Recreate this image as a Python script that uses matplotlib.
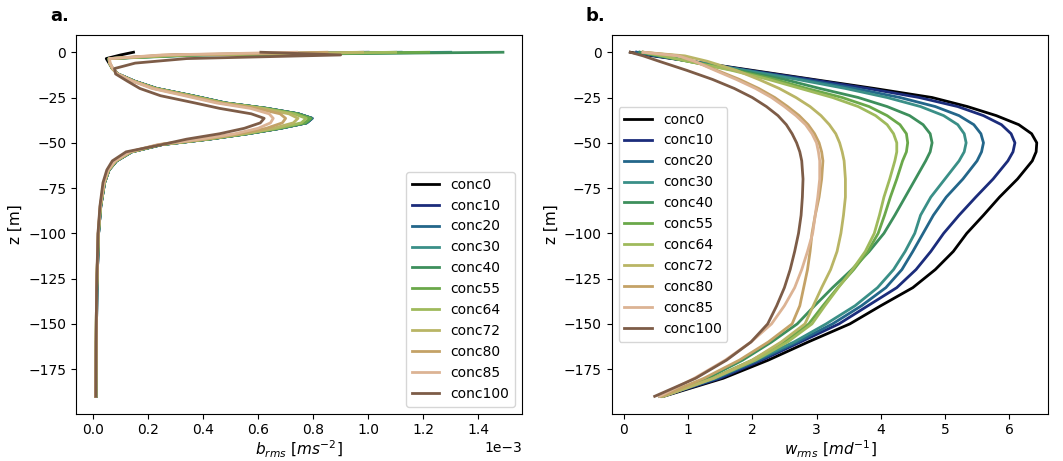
import matplotlib
matplotlib.use("Agg")
import matplotlib.pyplot as plt
import numpy as np

labels = ["conc0", "conc10", "conc20", "conc30", "conc40", "conc55",
          "conc64", "conc72", "conc80", "conc85", "conc100"]
colors = ["#000000", "#1b2c7b", "#23668a", "#3a8f87", "#3d8f5c", "#6aa84a",
          "#9fba5c", "#b9b565", "#c4a267", "#dcb394", "#7d5c47"]

# ---- panel a: b_rms (units of 1e-3 m s^-2) ----
z_b = [0, -1.5, -3.5, -6, -9, -12, -16, -20, -24, -28, -31, -34, -36.5, -39,
       -42, -45, -48, -51, -55, -60, -65, -72, -85, -100, -130, -160, -190]

b_conc0 = [0.147, 0.10, 0.048, 0.058, 0.070, 0.090, 0.150, 0.230, 0.360, 0.480, 0.630, 0.745, 0.795, 0.775,
           0.680, 0.560, 0.420, 0.250, 0.140, 0.085, 0.058, 0.042, 0.028, 0.020, 0.014, 0.012, 0.011]
b_conc10 = [1.00, 0.30, 0.058, 0.060, 0.071, 0.091, 0.152, 0.232, 0.362, 0.482, 0.632, 0.747, 0.797, 0.777,
            0.682, 0.562, 0.422, 0.252, 0.141, 0.086, 0.058, 0.042, 0.028, 0.020, 0.014, 0.012, 0.011]
b_conc20 = [1.12, 0.32, 0.058, 0.060, 0.071, 0.091, 0.151, 0.231, 0.361, 0.481, 0.631, 0.746, 0.796, 0.776,
            0.681, 0.561, 0.421, 0.251, 0.141, 0.085, 0.058, 0.042, 0.028, 0.020, 0.014, 0.012, 0.011]
b_conc30 = [1.30, 0.36, 0.058, 0.060, 0.070, 0.090, 0.150, 0.230, 0.360, 0.480, 0.630, 0.745, 0.795, 0.775,
            0.680, 0.560, 0.420, 0.250, 0.140, 0.085, 0.058, 0.042, 0.028, 0.020, 0.014, 0.012, 0.011]
b_conc40 = [1.49, 0.40, 0.058, 0.060, 0.070, 0.090, 0.150, 0.229, 0.359, 0.479, 0.629, 0.744, 0.794, 0.774,
            0.679, 0.559, 0.419, 0.249, 0.140, 0.085, 0.058, 0.042, 0.028, 0.020, 0.014, 0.012, 0.011]
b_conc55 = [1.22, 0.35, 0.058, 0.060, 0.070, 0.090, 0.149, 0.228, 0.357, 0.477, 0.627, 0.741, 0.790, 0.770,
            0.676, 0.557, 0.418, 0.248, 0.139, 0.084, 0.057, 0.041, 0.027, 0.019, 0.013, 0.011, 0.010]
b_conc64 = [1.10, 0.33, 0.058, 0.060, 0.070, 0.089, 0.148, 0.226, 0.354, 0.473, 0.620, 0.730, 0.775, 0.757,
            0.668, 0.552, 0.414, 0.246, 0.138, 0.083, 0.057, 0.041, 0.027, 0.019, 0.013, 0.011, 0.010]
b_conc72 = [0.98, 0.30, 0.058, 0.060, 0.070, 0.089, 0.147, 0.224, 0.350, 0.468, 0.612, 0.712, 0.745, 0.728,
            0.655, 0.545, 0.410, 0.244, 0.137, 0.082, 0.056, 0.040, 0.027, 0.019, 0.013, 0.011, 0.010]
b_conc80 = [0.85, 0.27, 0.059, 0.061, 0.071, 0.089, 0.146, 0.220, 0.343, 0.460, 0.595, 0.680, 0.700, 0.688,
            0.630, 0.532, 0.402, 0.240, 0.135, 0.081, 0.055, 0.040, 0.026, 0.019, 0.013, 0.011, 0.010]
b_conc85 = [0.74, 0.25, 0.060, 0.062, 0.072, 0.089, 0.144, 0.214, 0.332, 0.448, 0.572, 0.640, 0.655, 0.645,
            0.600, 0.515, 0.390, 0.236, 0.133, 0.080, 0.055, 0.040, 0.026, 0.018, 0.013, 0.011, 0.010]
b_conc100 = [0.61, 0.90, 0.340, 0.153, 0.078, 0.082, 0.125, 0.170, 0.245, 0.370, 0.460, 0.575, 0.622, 0.608,
             0.550, 0.460, 0.340, 0.250, 0.120, 0.070, 0.050, 0.036, 0.025, 0.018, 0.013, 0.011, 0.010]

b_series = [b_conc0, b_conc10, b_conc20, b_conc30, b_conc40, b_conc55,
            b_conc64, b_conc72, b_conc80, b_conc85, b_conc100]

# ---- panel b: w_rms (m d^-1) ----
z_w = [0, -2, -5, -10, -15, -20, -25, -30, -35, -40, -45, -50, -55, -60,
       -70, -80, -90, -100, -110, -120, -130, -140, -150, -160, -170, -180, -190]

w_conc0 = [0.10, 0.45, 1.05, 2.00, 2.95, 3.90, 4.80, 5.35, 5.80, 6.15, 6.35, 6.43, 6.42, 6.36,
           6.13, 5.85, 5.60, 5.34, 5.13, 4.85, 4.50, 4.00, 3.52, 2.87, 2.25, 1.55, 0.62]
w_conc10 = [0.20, 0.50, 1.05, 1.95, 2.90, 3.80, 4.60, 5.20, 5.60, 5.88, 6.03, 6.09, 6.06, 5.98,
            5.75, 5.48, 5.22, 4.98, 4.78, 4.55, 4.25, 3.80, 3.35, 2.75, 2.15, 1.50, 0.60]
w_conc20 = [0.20, 0.50, 1.05, 1.90, 2.78, 3.60, 4.30, 4.85, 5.22, 5.45, 5.56, 5.60, 5.57, 5.50,
            5.28, 5.02, 4.82, 4.66, 4.50, 4.33, 4.08, 3.70, 3.25, 2.70, 2.10, 1.45, 0.60]
w_conc30 = [0.25, 0.55, 1.05, 1.88, 2.70, 3.45, 4.10, 4.62, 4.98, 5.20, 5.30, 5.33, 5.30, 5.22,
            5.00, 4.78, 4.62, 4.53, 4.38, 4.20, 3.95, 3.60, 3.15, 2.65, 2.05, 1.42, 0.60]
w_conc40 = [0.25, 0.55, 1.00, 1.78, 2.50, 3.05, 3.65, 4.10, 4.45, 4.66, 4.77, 4.80, 4.77, 4.70,
            4.54, 4.38, 4.22, 4.05, 3.82, 3.55, 3.25, 2.97, 2.70, 2.30, 1.85, 1.30, 0.55]
w_conc55 = [0.30, 0.60, 1.00, 1.72, 2.35, 2.85, 3.40, 3.82, 4.10, 4.30, 4.40, 4.42, 4.40, 4.34,
            4.25, 4.15, 4.06, 3.96, 3.80, 3.58, 3.33, 3.10, 2.88, 2.50, 2.00, 1.38, 0.58]
w_conc64 = [0.30, 0.60, 1.00, 1.68, 2.25, 2.75, 3.25, 3.65, 3.92, 4.10, 4.20, 4.25, 4.25, 4.22,
            4.14, 4.05, 3.98, 3.90, 3.76, 3.56, 3.34, 3.13, 2.93, 2.55, 2.05, 1.40, 0.60]
w_conc72 = [0.30, 0.95, 1.30, 1.75, 2.10, 2.42, 2.68, 2.90, 3.07, 3.20, 3.30, 3.36, 3.40, 3.43,
            3.45, 3.45, 3.42, 3.38, 3.32, 3.22, 3.08, 2.95, 2.82, 2.45, 2.00, 1.40, 0.62]
w_conc80 = [0.30, 0.85, 1.10, 1.45, 1.80, 2.10, 2.35, 2.55, 2.73, 2.87, 2.97, 3.04, 3.08, 3.10,
            3.08, 3.04, 2.98, 2.93, 2.90, 2.86, 2.80, 2.74, 2.62, 2.25, 1.80, 1.25, 0.58]
w_conc85 = [0.30, 0.85, 1.10, 1.42, 1.75, 2.05, 2.30, 2.50, 2.68, 2.83, 2.93, 3.00, 3.03, 3.05,
            3.05, 3.02, 2.98, 2.94, 2.86, 2.77, 2.66, 2.50, 2.30, 1.98, 1.58, 1.10, 0.55]
w_conc100 = [0.10, 0.30, 0.55, 0.98, 1.38, 1.72, 2.00, 2.22, 2.40, 2.53, 2.62, 2.69, 2.74, 2.77,
             2.79, 2.78, 2.76, 2.72, 2.66, 2.59, 2.50, 2.38, 2.24, 1.98, 1.60, 1.12, 0.48]

w_series = [w_conc0, w_conc10, w_conc20, w_conc30, w_conc40, w_conc55,
            w_conc64, w_conc72, w_conc80, w_conc85, w_conc100]

fig = plt.figure(figsize=(10.63, 4.61), dpi=100)
ax1 = fig.add_axes([0.0715, 0.103, 0.4195, 0.821])
ax2 = fig.add_axes([0.5754, 0.103, 0.4108, 0.821])

for lab, col, vals in zip(labels, colors, b_series):
    ax1.plot(np.array(vals) * 1e-3, z_b, color=col, lw=2, label=lab)
for lab, col, vals in zip(labels, colors, w_series):
    ax2.plot(vals, z_w, color=col, lw=2, label=lab)

ax1.set_xlim(-0.062e-3, 1.559e-3)
ax1.set_ylim(-199.5, 9.5)
ax2.set_xlim(-0.19, 6.61)
ax2.set_ylim(-199.5, 9.5)
ax1.ticklabel_format(style='sci', axis='x', scilimits=(0, 0))

ax1.set_xlabel(r'$b_{rms}\ [ms^{-2}]$', fontsize=11, labelpad=1)
ax1.set_ylabel('z [m]', fontsize=11)
ax2.set_xlabel(r'$w_{rms}\ [md^{-1}]$', fontsize=11, labelpad=1)
ax2.set_ylabel('z [m]', fontsize=11)

ax1.legend(loc='lower right', fontsize=10)
ax2.legend(loc='center left', fontsize=10)

fig.text(0.047, 0.955, 'a.', fontsize=13, fontweight='bold')
fig.text(0.551, 0.955, 'b.', fontsize=13, fontweight='bold')

fig.savefig('out.png', dpi=100)
